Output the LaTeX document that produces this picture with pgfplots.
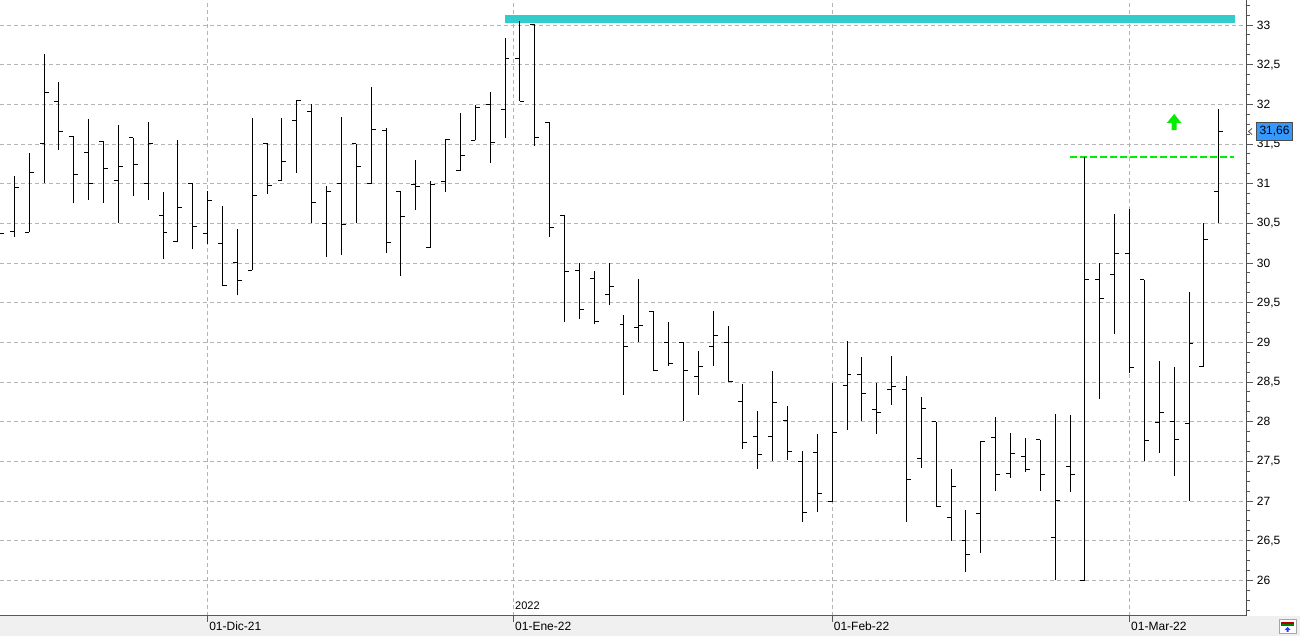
\documentclass[border=0pt]{standalone}
\usepackage{pgfplots}
\pgfplotsset{compat=1.18}
\usepackage{pgfplotstable}
\usepackage{fontspec}
\setmainfont{Liberation Sans}
\definecolor{gridc}{HTML}{B4B4B4}
\definecolor{cyanbar}{HTML}{33CCCC}
\definecolor{lime}{HTML}{00EE00}
\definecolor{pricebox}{HTML}{3399FF}
\definecolor{strip}{HTML}{F0F0F0}

\pgfplotstableread{
x o h l c
0 30.37 30.40 30.33 30.37
1 30.40 31.10 30.33 30.95
2 30.39 31.39 30.39 31.14
3 31.50 32.63 31.01 32.15
4 32.04 32.28 31.43 31.66
5 31.60 31.60 30.75 31.11
6 31.39 31.82 30.80 31.00
7 31.53 31.53 30.76 31.19
8 31.04 31.74 30.51 31.21
9 31.58 31.58 30.84 31.24
10 31.00 31.78 30.80 31.50
11 30.60 30.89 30.05 30.39
12 30.27 31.55 30.27 30.70
13 31.00 31.00 30.17 30.46
14 30.37 30.91 30.24 30.79
15 30.25 30.72 29.71 29.71
16 30.00 30.43 29.59 29.78
17 29.91 31.83 29.91 30.85
18 31.51 31.51 30.87 30.98
19 31.04 31.83 31.04 31.28
20 31.80 32.05 31.14 32.05
21 31.91 32.01 30.51 30.76
22 30.50 30.97 30.08 30.90
23 31.00 31.84 30.10 30.49
24 31.50 31.50 30.50 31.22
25 31.00 32.22 31.00 31.68
26 31.67 31.70 30.12 30.26
27 30.90 30.90 29.83 30.58
28 30.99 31.30 30.67 30.97
29 30.20 31.03 30.20 30.99
30 31.03 31.56 30.90 31.56
31 31.16 31.89 31.16 31.35
32 31.55 31.99 31.55 31.96
33 32.00 32.16 31.26 31.52
34 31.94 32.84 31.57 32.58
35 32.58 33.05 32.04 32.04
36 33.00 33.00 31.48 31.58
37 31.77 31.77 30.33 30.45
38 30.60 30.60 29.26 29.89
39 29.90 30.00 29.30 29.41
40 29.80 29.90 29.23 29.26
41 29.60 30.00 29.47 29.70
42 29.23 29.34 28.34 28.95
43 29.19 29.80 29.01 29.21
44 29.39 29.39 28.64 28.64
45 29.00 29.26 28.70 28.73
46 29.00 29.00 28.01 28.65
47 28.57 28.89 28.34 28.70
48 28.95 29.40 28.70 29.08
49 29.00 29.20 28.51 28.51
50 28.25 28.48 27.66 27.74
51 27.81 28.13 27.40 27.59
52 27.81 28.64 27.51 28.24
53 28.01 28.20 27.52 27.62
54 27.50 27.63 26.74 26.86
55 27.61 27.85 26.86 27.09
56 26.99 28.49 26.99 27.86
57 28.46 29.02 27.89 28.59
58 28.59 28.82 28.01 28.35
59 28.15 28.49 27.84 28.12
60 28.40 28.83 28.21 28.44
61 28.40 28.58 26.74 27.27
62 27.54 28.31 27.42 28.17
63 28.00 28.00 26.93 26.93
64 26.79 27.40 26.50 27.18
65 26.50 26.89 26.11 26.33
66 26.84 27.75 26.35 27.75
67 27.80 28.06 27.13 27.33
68 27.35 27.86 27.29 27.60
69 27.56 27.79 27.36 27.40
70 27.77 27.77 27.13 27.33
71 26.54 28.10 26.00 27.00
72 27.44 28.08 27.11 27.33
73 26.00 31.33 26.00 29.79
74 29.79 30.00 28.29 29.55
75 29.86 30.62 29.11 30.12
76 30.12 30.68 28.61 28.68
77 29.79 29.79 27.50 27.76
78 27.99 28.76 27.61 28.11
79 28.00 28.69 27.32 27.78
80 27.98 29.64 27.00 28.99
81 28.70 30.50 28.70 30.30
82 30.90 31.94 30.51 31.66
}\ohlc

\begin{document}
\begin{tikzpicture}[x=1pt,y=1pt]
\path[use as bounding box] (0,0) rectangle (1300,636);
\fill[strip] (0,0) rectangle (1300,20);
\begin{axis}[
  at={(0pt,20pt)}, anchor=south west, scale only axis,
  width=1246.7pt, height=616pt,
  xmin=0.038, xmax=83.88, ymin=25.55, ymax=33.315,
  axis x line=bottom, axis y line=right,
  axis line style={-},
  x axis line style={draw=black!65, line width=1pt},
  y axis line style={draw=black!70, line width=1pt},
  tick align=outside,
  major tick length=6pt, minor tick length=3.3pt,
  xtick={14,34.57,56,76},
  xticklabels={01-Dic-21,01-Ene-22,01-Feb-22,01-Mar-22},
  ytick={26,26.5,...,33},
  minor ytick={25.625,25.75,...,33.3},
  xmajorgrids, ymajorgrids,
  major grid style={gridc, line width=0.9pt, dash pattern=on 4pt off 3pt},
  tick style={black!65, line width=0.9pt},
  ticklabel style={font=\fontsize{12}{14}\selectfont},
  /pgf/number format/assume math mode=true,
  yticklabel style={anchor=west, inner sep=0pt, xshift=4pt,
    /pgf/number format/use comma, /pgf/number format/fixed, /pgf/number format/precision=1},
  xticklabel style={anchor=north west, inner sep=0pt, xshift=1.5pt},
  ohlc/.style={draw=none, mark=none, forget plot},
]
\addplot[cyanbar, line width=7.7pt, line cap=butt, forget plot] coordinates {(34.0,33.078) (83.09,33.078)};
\addplot[lime, line width=2pt, dash pattern=on 7pt off 3pt, forget plot] coordinates {(72.0,31.33) (83.03,31.33)};
\addplot[fill=lime, draw=none, forget plot] coordinates {(78.51,31.765) (79.0,31.878) (79.49,31.765) (79.17,31.765) (79.17,31.676) (78.83,31.676) (78.83,31.765)};
% high-low
\addplot[ohlc,
  error bars/.cd, y dir=plus, y explicit, error mark=none,
  error bar style={draw=black, line width=1pt, solid}]
  table[x=x, y=l, y error expr=\thisrow{h}-\thisrow{l}] {\ohlc};
% open
\addplot[ohlc,
  error bars/.cd, x dir=minus, x fixed=0.3, error mark=none,
  error bar style={draw=black, line width=1pt, solid}]
  table[x=x, y=o] {\ohlc};
% close
\addplot[ohlc,
  error bars/.cd, x dir=plus, x fixed=0.3, error mark=none,
  error bar style={draw=black, line width=1pt, solid}]
  table[x=x, y=c] {\ohlc};
\node[anchor=base west, inner sep=0pt, font=\fontsize{11}{13}\selectfont, xshift=1.5pt, yshift=6pt] at (axis cs:34.57,25.55) {2022};
\end{axis}
\node[fill=pricebox, draw=black!70, line width=0.8pt, minimum width=35.6pt, minimum height=17.6pt, inner sep=0pt, font=\fontsize{12}{14}\selectfont] at (1274.5,504.5) {31,66};
\draw[black!70, line width=0.8pt] (1252,507.5) -- (1248.5,504.5) -- (1252,501.5);
\draw[black!35, fill=white] (1279,2.5) rectangle (1296,16.5);
\fill[red!70!black] (1281,12) rectangle (1294,14);
\fill[green!50!black] (1281,9.5) rectangle (1294,11.5);
\fill[blue!80] (1287.5,9) -- (1284.5,6) -- (1286.5,6) -- (1286.5,4) -- (1288.5,4) -- (1288.5,6) -- (1290.5,6) -- cycle;
\end{tikzpicture}
\end{document}
